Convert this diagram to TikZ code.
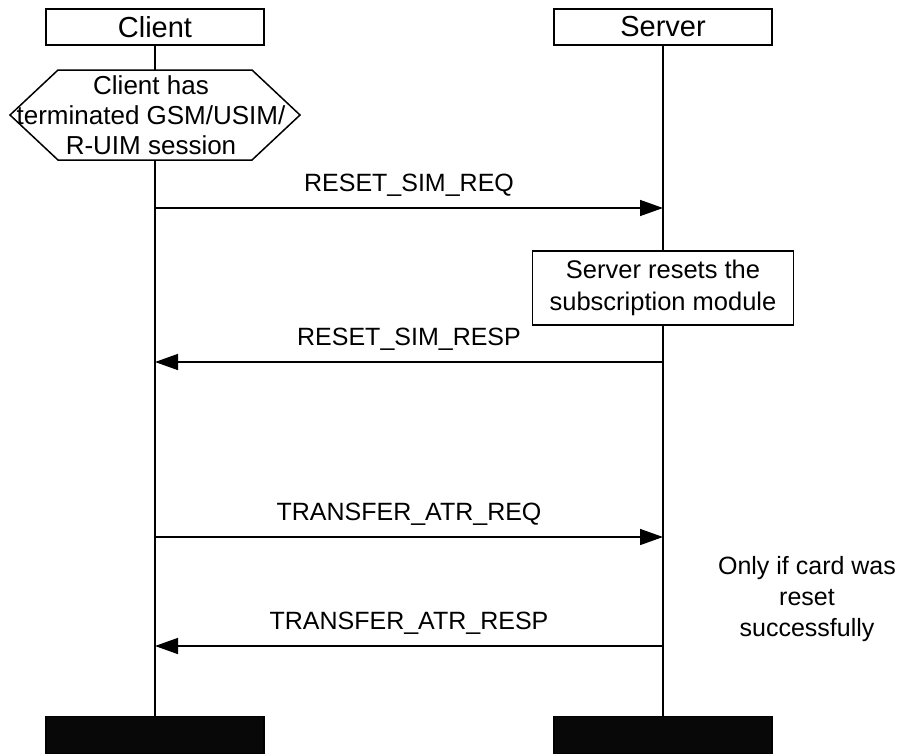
\documentclass[tikz,border=0pt]{standalone}
\usepackage{fontspec}
\setmainfont{Liberation Sans}
\usetikzlibrary{arrows.meta,positioning,calc}

\begin{document}
\begin{tikzpicture}[x=1pt, y=-1pt, line width=1.5pt,
    head/.style={rectangle, draw, fill=white, minimum width=218pt, minimum height=36pt, inner sep=0pt, font=\fontsize{29}{33}\selectfont},
    foot/.style={rectangle, draw, fill=black!97, minimum width=218pt, minimum height=37pt, inner sep=0pt},
    action/.style={rectangle, draw, fill=white, minimum width=261pt, minimum height=74pt, align=center, inner sep=0pt, font=\fontsize{25.5}{32}\selectfont},
    state/.style={align=center, inner sep=0pt, font=\fontsize{26}{30}\selectfont},
    note/.style={align=center, font=\fontsize{25}{31}\selectfont},
    msg/.style={-{Triangle[length=23pt,width=16pt]}},
    lbl/.style={anchor=base, yshift=17pt, font=\fontsize{25}{31}\selectfont}]
    \useasboundingbox (0,0) rectangle (899,753);

    % lifeline heads and ends
    \node [head] (client) at (155,27) {Client};
    \node [head] (server) at (663,27) {Server};
    \node [foot] (clientend) at (155,735) {};
    \node [foot] (serverend) at (663,735) {};
    \draw (client) -- (clientend);
    \draw (server) -- (serverend);

    % client condition
    \coordinate (statec) at (155,115);
    \filldraw[fill=white] ($(statec)+(-145,0)$) -- ($(statec)+(-97,-45)$) -- ($(statec)+(97,-45)$)
        -- ($(statec)+(145,0)$) -- ($(statec)+(97,45)$) -- ($(statec)+(-97,45)$) -- cycle;
    \node [state, xshift=-4pt] (clientstate) at (statec) {Client has\\terminated GSM/USIM/\\R-UIM session};

    % server action
    \node [action] (reset) at (663,288) {Server resets the\\subscription module};

    % messages
    \coordinate (c1) at (155,208);
    \coordinate (s1) at (663,208);
    \coordinate (c2) at (155,362);
    \coordinate (s2) at (663,362);
    \coordinate (c3) at (155,537);
    \coordinate (s3) at (663,537);
    \coordinate (c4) at (155,646);
    \coordinate (s4) at (663,646);
    \draw[msg] (c1) -- node[lbl] {RESET\_SIM\_REQ} (s1);
    \draw[msg] (s2) -- node[lbl] {RESET\_SIM\_RESP} (c2);
    \draw[msg] (c3) -- node[lbl] {TRANSFER\_ATR\_REQ} (s3);
    \draw[msg] (s4) -- node[lbl] {TRANSFER\_ATR\_RESP} (c4);

    \node [note] (cond) at (807,599) {Only if card was\\reset\\successfully};
\end{tikzpicture}
\end{document}
